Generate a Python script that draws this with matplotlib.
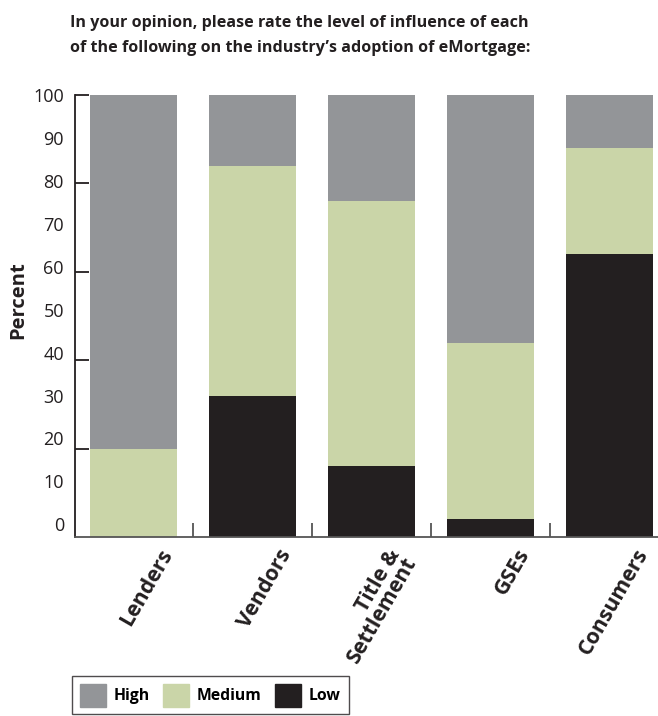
import numpy as np
import matplotlib.pyplot as plt
from matplotlib.patches import Patch

# influence ratings per group, in percent
groups = ["Lenders", "Vendors", "Title &\nSettlement", "GSEs", "Consumers"]
low = [0, 32, 16, 4, 64]
medium = [20, 52, 60, 40, 24]
high = [80, 16, 24, 56, 12]
y_labels = [str(v) for v in range(0, 101, 10)]

c_high = "#939598"
c_medium = "#cad5a8"
c_low = "#231f20"
ink = "#231f20"

plt.rcParams["font.family"] = ["Open Sans", "DejaVu Sans"]

fig = plt.figure(figsize=(6.58, 7.16), dpi=100)
ax = fig.add_axes([75 / 658, 179 / 716, 5 * 118.75 / 658, 442 / 716])

x = np.arange(len(groups))
low_a = np.array(low)
med_a = np.array(medium)
high_a = np.array(high)
w = 0.73
ax.bar(x, low_a, w, color=c_low, linewidth=0)
ax.bar(x, med_a, w, bottom=low_a, color=c_medium, linewidth=0)
ax.bar(x, high_a, w, bottom=low_a + med_a, color=c_high, linewidth=0)

ax.set_xlim(-0.49, 4.5)
ax.set_ylim(0, 100)

for s in ["top", "right"]:
    ax.spines[s].set_visible(False)
ax.spines["left"].set_color(ink)
ax.spines["left"].set_linewidth(1.3)
ax.spines["bottom"].set_color("#555555")
ax.spines["bottom"].set_linewidth(1.3)

# tick marks every 20, number labels spaced a little tighter than the scale
ax.set_yticks(np.arange(20, 101, 20))
ax.set_yticklabels([])
ax.tick_params(axis="y", which="major", direction="in", length=10, width=1.3, color=ink)
ax.set_yticks(2.9 + 0.97 * np.arange(0, 101, 10), minor=True)
ax.set_yticklabels(y_labels, minor=True, fontsize=13, color=ink)
ax.tick_params(axis="y", which="minor", length=0, pad=8)

# group names slanted, ending a bit right of each bar centre
label_x = x + np.array([0.21, 0.21, 0.126, 0.21, 0.21])
ax.set_xticks(label_x)
ax.set_xticklabels(groups, rotation=60, ha="right", va="top", rotation_mode="anchor",
                   fontsize=15.3, fontweight="bold", color=ink, linespacing=0.85)
ax.tick_params(axis="x", which="major", length=0, pad=6)
# separator ticks between bars
ax.set_xticks(x[:-1] + 0.5, minor=True)
ax.tick_params(axis="x", which="minor", direction="in", length=10, width=1.3, color="#555555")

ax.set_ylabel("Percent", fontsize=14.5, fontweight="bold", color=ink)
ax.yaxis.set_label_coords(-0.078, 0.536)

fig.text(70 / 658, 1 - 27 / 716,
         "In your opinion, please rate the level of influence of each",
         fontsize=11.6, fontweight="bold", color=ink, ha="left", va="baseline")
fig.text(70 / 658, 1 - 52 / 716,
         "of the following on the industry\u2019s adoption of eMortgage:",
         fontsize=11.6, fontweight="bold", color=ink, ha="left", va="baseline")

handles = [Patch(color=c_high, label="High"),
           Patch(color=c_medium, label="Medium"),
           Patch(color=c_low, label="Low")]
leg = fig.legend(handles=handles, loc="upper left", bbox_to_anchor=(72 / 658, 1 - 676 / 716),
                 borderaxespad=0, ncol=3, frameon=True, fancybox=False, edgecolor=ink,
                 prop={"weight": "bold", "size": 11.3}, handlelength=1.66, handleheight=1.85,
                 columnspacing=0.85, handletextpad=0.5, borderpad=0.5)
leg.get_frame().set_linewidth(1.0)

fig.savefig("out.png", dpi=100)
